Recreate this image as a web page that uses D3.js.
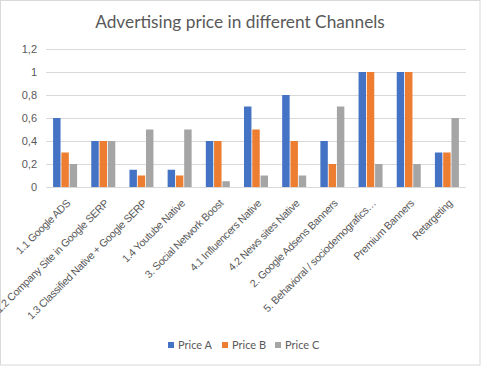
<!DOCTYPE html>
<html>
<head>
	<title>Advertising price in different Channels</title>
	<script src="https://cdnjs.cloudflare.com/ajax/libs/d3/7.8.5/d3.min.js"></script>
	<style type="text/css">
		body { margin: 0; background: #fff; }
		svg { font-family: Lato, "Open Sans", sans-serif; }
		.axis text { fill: #595959; font-size: 11px; }
		.x.axis text { font-size: 10.6px; letter-spacing: -0.3px; }
		.title { fill: #595959; font-size: 17.3px; }
		.legend text { fill: #595959; font-size: 11px; }
	</style>
</head>
<body>
	<script type="text/javascript">
		"use strict";

		var categories = [
			"1.1 Google ADS",
			"1.2 Company Site in Google SERP",
			"1.3 Classified Native + Google SERP",
			"1.4 Youtube Native",
			"3. Social Network Boost",
			"4.1 Influencers Native",
			"4.2 News sites Native",
			"2. Google Adsens Banners",
			"5. Behavioral / sociodemografics\u2026",
			"Premium Banners",
			"Retargeting"
		];
		var seriesNames = ["Price A", "Price B", "Price C"];
		var priceA = [0.6, 0.4, 0.15, 0.15, 0.4, 0.7, 0.8, 0.4, 1, 1, 0.3];
		var priceB = [0.3, 0.4, 0.1, 0.1, 0.4, 0.5, 0.4, 0.2, 1, 1, 0.3];
		var priceC = [0.2, 0.4, 0.5, 0.5, 0.05, 0.1, 0.1, 0.7, 0.2, 0.2, 0.6];
		var yTicks = [0, 0.2, 0.4, 0.6, 0.8, 1, 1.2];

		var colors = ["#4472C4", "#ED7D31", "#A5A5A5"];
		var series = [priceA, priceB, priceC];

		var width = 481, height = 366;
		var plotLeft = 46, plotRight = 466, plotTop = 49, plotBottom = 187;

		var svg = d3.select("body")
			.append("svg")
				.attr("width", width)
				.attr("height", height);

		svg.append("rect")
			.attr("x", 0.5).attr("y", 0.5)
			.attr("width", width - 1.5).attr("height", height - 1.5)
			.attr("fill", "#fff")
			.attr("stroke", "#d9d9d9");

		svg.append("text")
			.attr("class", "title")
			.attr("x", 240)
			.attr("y", 28)
			.attr("text-anchor", "middle")
			.text("Advertising price in different Channels");

		var x0 = d3.scaleBand()
			.domain(categories)
			.range([plotLeft, plotRight]);

		var groupW = 24;
		var x1 = d3.scaleBand()
			.domain(seriesNames)
			.range([0, groupW])
			.paddingInner(0.1);

		var y = d3.scaleLinear()
			.domain([0, 1.2])
			.range([plotBottom, plotTop]);

		// gridlines
		svg.append("g")
			.selectAll("line")
			.data(yTicks)
			.enter()
			.append("line")
				.attr("x1", plotLeft)
				.attr("x2", plotRight)
				.attr("y1", function(d) { return Math.round(y(d)) + 0.5; })
				.attr("y2", function(d) { return Math.round(y(d)) + 0.5; })
				.attr("stroke", "#d9d9d9");

		var fmt = function(d) { return String(d).replace(".", ","); };

		var yAxis = d3.axisLeft(y)
			.tickValues(yTicks)
			.tickFormat(fmt)
			.tickSize(0)
			.tickPadding(9);

		svg.append("g")
			.attr("class", "y axis")
			.attr("transform", "translate(" + plotLeft + ",0)")
			.call(yAxis)
			.call(function(g) { g.select(".domain").remove(); });

		// bars
		var groups = svg.append("g")
			.selectAll("g")
			.data(categories)
			.enter()
			.append("g")
				.attr("transform", function(d) {
					return "translate(" + (x0(d) + (x0.bandwidth() - groupW) / 2) + ",0)";
				});

		groups.selectAll("rect")
			.data(function(d, i) {
				return seriesNames.map(function(s, j) {
					return { name: s, value: series[j][i], color: colors[j] };
				});
			})
			.enter()
			.append("rect")
				.attr("x", function(d) { return x1(d.name); })
				.attr("width", x1.bandwidth())
				.attr("y", function(d) { return y(d.value); })
				.attr("height", function(d) { return y(0) - y(d.value); })
				.attr("fill", function(d) { return d.color; });

		// x axis
		var xAxis = d3.axisBottom(x0)
			.tickSize(0)
			.tickPadding(0);

		var xg = svg.append("g")
			.attr("class", "x axis")
			.attr("transform", "translate(0," + plotBottom + ")")
			.call(xAxis);

		xg.select(".domain")
			.attr("stroke", "#d9d9d9")
			.attr("d", "M" + plotLeft + ",0.5H" + plotRight);

		xg.selectAll(".tick text")
			.attr("text-anchor", "end")
			.attr("dy", null)
			.attr("y", 0)
			.attr("transform", "translate(6,17) rotate(-45)");

		// legend
		var legendX = [168, 222, 275];
		var legend = svg.append("g")
			.attr("class", "legend")
			.selectAll("g")
			.data(seriesNames)
			.enter()
			.append("g")
				.attr("transform", function(d, i) {
					return "translate(" + legendX[i] + ",345)";
				});

		legend.append("rect")
			.attr("x", 0).attr("y", -3)
			.attr("width", 6).attr("height", 6)
			.attr("fill", function(d, i) { return colors[i]; });

		legend.append("text")
			.attr("x", 10)
			.attr("y", 4)
			.text(function(d) { return d; });
	</script>
</body>
</html>
